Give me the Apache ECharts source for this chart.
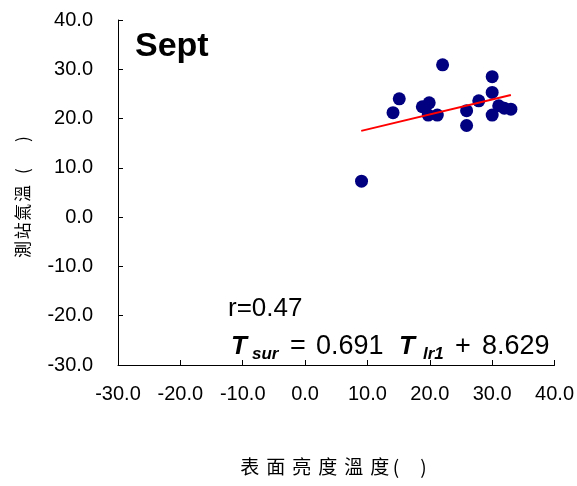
<!DOCTYPE html>
<html>
<head>
<meta charset="utf-8">
<script src="https://cdn.jsdelivr.net/npm/echarts@6/dist/echarts.min.js"></script>
<style>
html,body{margin:0;padding:0;background:#fff;}
#chart{width:577px;height:486px;}
</style>
</head>
<body>
<div id="chart"></div>
<script>
// Data
var surfaceTemp = [9.05, 14.1, 15.1, 22.05, 18.8, 19.9, 19.75, 21.2, 25.9, 25.9, 27.85, 30.0, 30.0, 30.0, 31.05, 31.95, 33.0];
var stationTemp = [7.3, 21.2, 24.0, 30.9, 22.4, 23.2, 20.7, 20.7, 21.6, 18.6, 23.6, 28.5, 25.3, 20.7, 22.6, 22.1, 21.9];
var trendX = [9.0, 33.0];
var trendY = [17.5, 24.8];
var axisMin = -30, axisMax = 40, axisStep = 10;
var panelTitle = 'Sept';
var rText = 'r=0.47';
var eqSlope = '0.691', eqIntercept = '8.629';

var LAT = "'Liberation Sans', Arial, sans-serif";
var CJK = "'Noto Sans CJK TC', 'Noto Sans CJK SC', sans-serif";

var scatterData = surfaceTemp.map(function (x, i) { return [x, stationTemp[i]]; });
var lineData = trendX.map(function (x, i) { return [x, trendY[i]]; });

var chart = echarts.init(document.getElementById('chart'), null, {renderer: 'canvas'});

function axisCommon() {
  return {
    type: 'value', min: axisMin, max: axisMax, interval: axisStep,
    axisLine: {show: true, onZero: false, lineStyle: {color: '#000', width: 1}},
    axisTick: {show: true, inside: true, length: 5, lineStyle: {color: '#000'}},
    splitLine: {show: false},
    axisLabel: {color: '#000', fontFamily: LAT, fontSize: 20, formatter: function (v) { return v.toFixed(1); }}
  };
}

var xAx = axisCommon();
xAx.axisLabel.margin = 19;
xAx.name = '{c|表}{c|面}{c|亮}{c|度}{c|溫}{c|度}{p|(}{g| }{p|)}{e| }';
xAx.nameLocation = 'middle';
xAx.nameGap = 92;
xAx.nameTextStyle = {
  color: '#000', fontFamily: CJK, fontSize: 19,
  rich: {
    c: {fontFamily: CJK, fontSize: 19, width: 26, align: 'center', color: '#000'},
    p: {fontFamily: CJK, fontSize: 19, color: '#000'},
    g: {fontSize: 19, width: 21},
    e: {fontSize: 19, width: 9}
  }
};

var yAx = axisCommon();
yAx.axisLabel.margin = 25;
yAx.name = '{c|測}{c|站}{c|氣}{c|溫}{p|(}{g| }{p|)}';
yAx.nameLocation = 'middle';
yAx.nameGap = 87;
yAx.nameTextStyle = {
  color: '#000', fontFamily: CJK, fontSize: 17,
  rich: {
    c: {fontFamily: CJK, fontSize: 17, width: 18.7, align: 'center', color: '#000'},
    p: {fontFamily: CJK, fontSize: 17, width: 26, align: 'center', color: '#000'},
    g: {fontSize: 17, width: 6}
  }
};

function txt(x, y, s, font) {
  return {type: 'text', x: x, y: y, silent: true,
    style: {text: s, fill: '#000', font: font, align: 'left', verticalAlign: 'middle'}};
}

var option = {
  animation: false,
  backgroundColor: '#fff',
  grid: {left: 118, right: 21, top: 20, bottom: 121, containLabel: false},
  xAxis: xAx,
  yAxis: yAx,
  series: [
    {type: 'scatter', data: scatterData, symbol: 'circle', symbolSize: 13,
     itemStyle: {color: '#000080', opacity: 1}, z: 3},
    {type: 'line', data: lineData, showSymbol: false, symbol: 'none',
     lineStyle: {color: '#ff0000', width: 2}, z: 4}
  ],
  graphic: [
    txt(135, 47, panelTitle, "bold 34px " + LAT),
    txt(228, 309, rText, "26px " + LAT),
    txt(231, 347, 'T', "italic bold 26px " + LAT),
    txt(252, 354, 'sur', "italic bold 17px " + LAT),
    txt(290, 347, '=', "27px " + LAT),
    txt(316, 347, eqSlope, "27px " + LAT),
    txt(399, 347, 'T', "italic bold 26px " + LAT),
    txt(423, 354, 'lr1', "italic bold 17px " + LAT),
    txt(455, 347, '+', "27px " + LAT),
    txt(482, 347, eqIntercept, "27px " + LAT)
  ]
};
chart.setOption(option);
</script>
</body>
</html>
